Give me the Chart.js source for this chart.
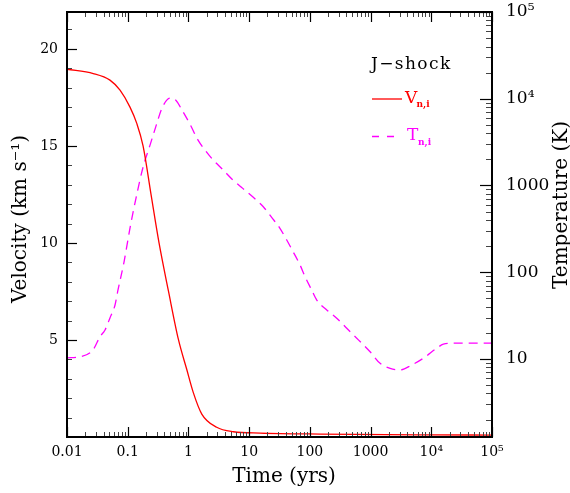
<!DOCTYPE html>
<html><head><meta charset="utf-8">
<script src="https://cdn.jsdelivr.net/npm/chart.js@4"></script>
<style>html,body{margin:0;padding:0;background:#fff}</style>
</head><body>
<canvas id="c" width="570" height="493"></canvas>
<script>
const timeV = [0.01, 0.0271, 0.051, 0.0747, 0.109, 0.141, 0.179, 0.242, 0.328, 0.470, 0.687, 0.937, 1.20, 1.66, 2.92, 5.5, 15.1, 147, 1e4, 1e5];
const velocity = [18.95, 18.73, 18.39, 17.87, 17.0, 16.16, 15.0, 12.5, 10.0, 7.5, 5.0, 3.49, 2.30, 1.18, 0.5, 0.27, 0.2, 0.15, 0.11, 0.1];
const timeT = [0.01, 0.0164, 0.0268, 0.035, 0.0423, 0.051, 0.0618, 0.0692, 0.0869, 0.109, 0.137, 0.179, 0.233, 0.292, 0.367, 0.498, 0.625, 0.785, 1.06, 1.44, 1.88, 2.57, 3.67, 5.29, 7.85, 11.7, 17.1, 23.5, 31.4, 41.6, 50.3, 69, 83.4, 107, 130, 190, 277, 405, 630, 982, 1435, 2100, 3060, 4770, 7410, 12300, 15800, 23100, 1e5];
const temperature = [10.3, 10.6, 12.7, 18.1, 21.6, 29.7, 41.9, 62.4, 131, 323, 716, 1630, 2920, 4830, 7800, 10160, 9540, 7400, 5090, 3340, 2560, 1960, 1530, 1175, 926, 730, 569, 429, 329, 235, 184, 121, 88.7, 62.4, 47.8, 36.7, 29.5, 22.6, 16.6, 12.1, 8.9, 7.8, 7.47, 8.53, 10.2, 13.3, 14.8, 15.2, 15.2];

const timeTicks = [0.01, 0.1, 1, 10, 100, 1000, 1e4, 1e5];
const timeTickLabels = ['0.01', '0.1', '1', '10', '100', '1000', '10⁴', '10⁵'];
const velTicks = [5, 10, 15, 20];
const velTickLabels = ['5', '10', '15', '20'];
const tempTicks = [10, 100, 1000, 1e4, 1e5];
const tempTickLabels = ['10', '100', '1000', '10⁴', '10⁵'];

const xTitle = 'Time (yrs)';
const yTitle = 'Velocity (km s⁻¹)';
const y2Title = 'Temperature (K)';
const legendTitle = 'J−shock';
const legendV = ['V', 'n,i'];
const legendT = ['T', 'n,i'];

const FONT = '"DejaVu Serif", "Liberation Serif", serif';
const RED = '#ff0000', MAG = '#ff00ff';

const decor = {
  id: 'decor',
  afterDatasetsDraw(chart) {
    const { ctx, chartArea: a, scales } = chart;
    const sx = scales.x, sy = scales.y, st = scales.y2;
    const r = v => Math.round(v) + 0.5;
    const seg = (x1, y1, x2, y2, col, w) => {
      ctx.beginPath(); ctx.strokeStyle = col; ctx.lineWidth = w;
      ctx.moveTo(x1, y1); ctx.lineTo(x2, y2); ctx.stroke();
    };
    ctx.save();
    ctx.setLineDash([]);
    for (let e = -2; e < 5; e++) {
      const d = Math.pow(10, e);
      for (let k = 2; k < 10; k++) {
        const px = r(sx.getPixelForValue(d * k));
        seg(px, a.bottom, px, a.bottom - 5, '#444', 1);
        seg(px, a.top, px, a.top + 5, '#444', 1);
      }
    }
    timeTicks.forEach(v => {
      const px = r(sx.getPixelForValue(v));
      seg(px, a.bottom, px, a.bottom - 10, '#000', 1.2);
      seg(px, a.top, px, a.top + 10, '#000', 1.2);
    });
    for (let v = 1; v <= 21; v++) {
      const py = r(sy.getPixelForValue(v));
      const major = velTicks.includes(v);
      seg(a.left, py, a.left + (major ? 10 : 5), py, major ? '#000' : '#444', major ? 1.2 : 1);
    }
    for (let e = 0; e < 5; e++) {
      const d = Math.pow(10, e);
      for (let k = 2; k < 10; k++) {
        const v = d * k;
        if (v < st.min || v > st.max) continue;
        const py = r(st.getPixelForValue(v));
        seg(a.right, py, a.right - 6, py, '#444', 1);
      }
    }
    tempTicks.forEach(v => {
      const py = r(st.getPixelForValue(v));
      seg(a.right, py, a.right - 12, py, '#000', 1.2);
    });
    ctx.lineWidth = 2; ctx.strokeStyle = '#000';
    ctx.strokeRect(a.left, a.top, a.right - a.left, a.bottom - a.top);
    ctx.restore();
  },
  afterDraw(chart) {
    const { ctx } = chart;
    ctx.save();
    ctx.fillStyle = '#000';
    ctx.textBaseline = 'alphabetic';
    ctx.font = '20px ' + FONT;
    ctx.textAlign = 'center';
    ctx.fillText(xTitle, 284, 482);
    ctx.save(); ctx.translate(26, 219); ctx.rotate(-Math.PI / 2); ctx.fillText(yTitle, 0, 0); ctx.restore();
    ctx.save(); ctx.translate(567, 205); ctx.rotate(-Math.PI / 2); ctx.fillText(y2Title, 0, 0); ctx.restore();
    ctx.textAlign = 'left';
    ctx.font = '17px ' + FONT;
    ctx.letterSpacing = '1.4px';
    ctx.fillText(legendTitle, 371, 69);
    ctx.letterSpacing = '0px';
    ctx.beginPath(); ctx.strokeStyle = RED; ctx.lineWidth = 1.3; ctx.setLineDash([]);
    ctx.moveTo(372, 99); ctx.lineTo(402, 99); ctx.stroke();
    ctx.fillStyle = RED; ctx.font = '17px ' + FONT;
    ctx.fillText(legendV[0], 405, 103);
    ctx.font = 'bold 9px ' + FONT;
    ctx.fillText(legendV[1], 416.5, 107);
    ctx.beginPath(); ctx.strokeStyle = MAG; ctx.setLineDash([7, 8]);
    ctx.moveTo(372, 136.5); ctx.lineTo(402, 136.5); ctx.stroke();
    ctx.setLineDash([]);
    ctx.fillStyle = MAG; ctx.font = '17px ' + FONT;
    ctx.fillText(legendT[0], 407, 140);
    ctx.font = 'bold 9px ' + FONT;
    ctx.fillText(legendT[1], 418, 144.5);
    ctx.restore();
  }
};

const noPad = s => { s.paddingTop = 0; s.paddingBottom = 0; s.paddingLeft = 0; s.paddingRight = 0; };

new Chart(document.getElementById('c'), {
  type: 'scatter',
  data: {
    datasets: [
      { data: timeV.map((t, i) => ({ x: t, y: velocity[i] })), yAxisID: 'y', showLine: true,
        borderColor: RED, borderWidth: 1.3, pointRadius: 0, cubicInterpolationMode: 'monotone' },
      { data: timeT.map((t, i) => ({ x: t, y: temperature[i] })), yAxisID: 'y2', showLine: true,
        borderColor: MAG, borderWidth: 1.3, borderDash: [9, 6], pointRadius: 0, cubicInterpolationMode: 'monotone' }
    ]
  },
  options: {
    responsive: false, animation: false, devicePixelRatio: 1,
    layout: { padding: { top: 12, left: 0, right: 0, bottom: 0 } },
    plugins: { legend: { display: false }, tooltip: { enabled: false } },
    scales: {
      x: {
        type: 'logarithmic', position: 'bottom', min: 0.01, max: 1e5,
        grid: { display: false, drawTicks: false }, border: { display: false },
        afterBuildTicks: s => { s.ticks = timeTicks.map(v => ({ value: v })); },
        afterFit: s => { s.height = 56; noPad(s); },
        ticks: { autoSkip: false, maxRotation: 0, padding: 7, color: '#000', font: { family: FONT, size: 14 },
          callback: (v, i) => timeTickLabels[i] }
      },
      y: {
        type: 'linear', position: 'left', min: 0, max: 21.9,
        grid: { display: false, drawTicks: false }, border: { display: false },
        afterBuildTicks: s => { s.ticks = velTicks.map(v => ({ value: v })); },
        afterFit: s => { s.width = 67; noPad(s); },
        ticks: { autoSkip: false, padding: 9, color: '#000', font: { family: FONT, size: 14 },
          callback: (v, i) => velTickLabels[i] }
      },
      y2: {
        type: 'logarithmic', position: 'right', min: 1.26, max: 1e5,
        grid: { display: false, drawTicks: false }, border: { display: false },
        afterBuildTicks: s => { s.ticks = tempTicks.map(v => ({ value: v })); },
        afterFit: s => { s.width = 78; noPad(s); },
        ticks: { autoSkip: false, padding: 14, color: '#000', font: { family: FONT, size: 17 },
          callback: (v, i) => tempTickLabels[i] }
      }
    }
  },
  plugins: [decor]
});
</script>
</body></html>
